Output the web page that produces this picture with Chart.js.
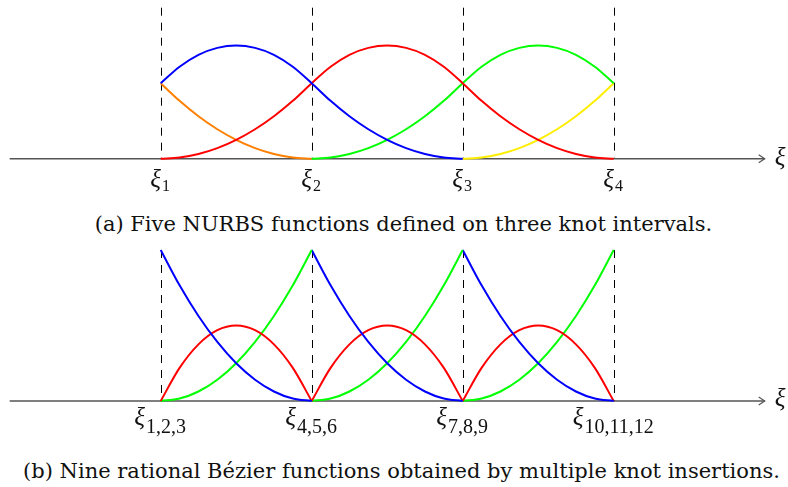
<!DOCTYPE html>
<html>
<head>
<meta charset="utf-8">
<script src="https://cdn.jsdelivr.net/npm/chart.js@4.4.1/dist/chart.umd.min.js"></script>
<style>
  body { margin: 0; background: #fff; width: 788px; height: 487px; overflow: hidden; position: relative; }
  canvas { position: absolute; left: 0; }
  #nurbs { top: 0; }
  #bezier { top: 240px; }
  .caption { position: absolute; left: 0; text-align: center; white-space: nowrap;
             font-family: "DejaVu Serif", serif; font-size: 21px; line-height: 21px; color: #111; }
  #capA { top: 214px; width: 807px; }
  #capB { top: 461px; width: 803px; }
</style>
</head>
<body>
<canvas id="nurbs" width="788" height="200"></canvas>
<div class="caption" id="capA">(a) Five NURBS functions defined on three knot intervals.</div>
<canvas id="bezier" width="788" height="200"></canvas>
<div class="caption" id="capB">(b) Nine rational Bézier functions obtained by multiple knot insertions.</div>
<script>
// knots and their subscripts
const knots = [0, 1, 2, 3];
const subsA = ['1', '2', '3', '4'];
const subsB = ['1,2,3', '4,5,6', '7,8,9', '10,11,12'];

// (a) quadratic NURBS, sampled every 1/8 of a knot interval
const paramA = [0, 0.125, 0.25, 0.375, 0.5, 0.625, 0.75, 0.875, 1,
                1.125, 1.25, 1.375, 1.5, 1.625, 1.75, 1.875, 2,
                2.125, 2.25, 2.375, 2.5, 2.625, 2.75, 2.875, 3];
const orangeA = [0.5, 0.383, 0.281, 0.195, 0.125, 0.07, 0.031, 0.008, 0,
                 null, null, null, null, null, null, null, null,
                 null, null, null, null, null, null, null, null];
const blueA = [0.5, 0.609, 0.688, 0.734, 0.75, 0.734, 0.688, 0.609, 0.5,
               0.383, 0.281, 0.195, 0.125, 0.07, 0.031, 0.008, 0,
               null, null, null, null, null, null, null, null];
const redA = [0, 0.008, 0.031, 0.07, 0.125, 0.195, 0.281, 0.383, 0.5,
              0.609, 0.688, 0.734, 0.75, 0.734, 0.688, 0.609, 0.5,
              0.383, 0.281, 0.195, 0.125, 0.07, 0.031, 0.008, 0];
const greenA = [null, null, null, null, null, null, null, null,
                0, 0.008, 0.031, 0.07, 0.125, 0.195, 0.281, 0.383, 0.5,
                0.609, 0.688, 0.734, 0.75, 0.734, 0.688, 0.609, 0.5];
const yellowA = [null, null, null, null, null, null, null, null,
                 null, null, null, null, null, null, null, null,
                 0, 0.008, 0.031, 0.07, 0.125, 0.195, 0.281, 0.383, 0.5];

// (b) Bezier pieces, same shape in each knot interval
const spansB = [0, 1, 2];
const localT = [0, 0.125, 0.25, 0.375, 0.5, 0.625, 0.75, 0.875, 1];
const bezBlue = [1, 0.766, 0.563, 0.391, 0.25, 0.141, 0.063, 0.016, 0];
const bezRed = [0, 0.219, 0.375, 0.469, 0.5, 0.469, 0.375, 0.219, 0];
const bezGreen = [0, 0.016, 0.063, 0.141, 0.25, 0.391, 0.563, 0.766, 1];

const BLUE = '#0000ff', RED = '#ff0000', GREEN = '#00ff00', ORANGE = '#ff8000', YELLOW = '#ffee00';

function line(values, xs, color) {
  return {
    data: xs.map((x, i) => ({ x: x, y: values[i] })),
    borderColor: color, borderWidth: 2, pointRadius: 0,
    cubicInterpolationMode: 'monotone', spanGaps: false, fill: false
  };
}

// axis with arrow, dashed knot lines, xi labels
function knotAxis(subs, cfg) {
  return {
    id: 'knotAxis',
    beforeDatasetsDraw(chart) {
      const ctx = chart.ctx, sx = chart.scales.x, sy = chart.scales.y;
      const y0 = sy.getPixelForValue(0);
      ctx.save();
      ctx.strokeStyle = '#000';
      ctx.lineWidth = 1;
      ctx.setLineDash([8, 7]);
      knots.forEach(k => {
        const px = Math.round(sx.getPixelForValue(k)) + 0.5;
        ctx.beginPath();
        ctx.moveTo(px, sy.getPixelForValue(1));
        ctx.lineTo(px, y0);
        ctx.stroke();
      });
      ctx.setLineDash([]);
      ctx.strokeStyle = '#555';
      ctx.lineWidth = 1.6;
      const xa = sx.getPixelForValue(-1), xb = sx.getPixelForValue(4);
      ctx.beginPath();
      ctx.moveTo(xa, y0);
      ctx.lineTo(xb, y0);
      ctx.stroke();
      ctx.lineWidth = 1.2;
      ctx.beginPath();
      ctx.moveTo(xb - 6, y0 - 4);
      ctx.lineTo(xb, y0);
      ctx.lineTo(xb - 6, y0 + 4);
      ctx.stroke();
      ctx.restore();
    },
    afterDatasetsDraw(chart) {
      const ctx = chart.ctx, sx = chart.scales.x, sy = chart.scales.y;
      const y0 = sy.getPixelForValue(0);
      const xiFont = 'italic ' + cfg.xiSize + 'px "Liberation Serif"';
      const subFont = cfg.subSize + 'px "Liberation Serif"';
      ctx.save();
      ctx.fillStyle = '#111';
      ctx.textBaseline = 'alphabetic';
      ctx.textAlign = 'left';
      knots.forEach((k, i) => {
        ctx.font = xiFont;
        const w1 = ctx.measureText('ξ').width;
        ctx.font = subFont;
        const w2 = ctx.measureText(subs[i]).width;
        const x0 = sx.getPixelForValue(k) - (w1 + w2) / 2 - 1;
        ctx.font = xiFont;
        ctx.fillText('ξ', x0, y0 + cfg.xiDrop);
        ctx.font = subFont;
        ctx.fillText(subs[i], x0 + w1 + 1, y0 + cfg.subDrop);
      });
      ctx.font = xiFont;
      ctx.fillText('ξ', sx.getPixelForValue(4) + 10, y0 + cfg.endDrop);
      ctx.restore();
    }
  };
}

function baseOptions(yMin, yMax) {
  return {
    responsive: false,
    animation: false,
    devicePixelRatio: 1,
    layout: { padding: 0 },
    plugins: { legend: { display: false }, tooltip: { enabled: false }, title: { display: false } },
    scales: {
      x: { type: 'linear', min: -1.0642, max: 4.1543, display: false },
      y: { type: 'linear', min: yMin, max: yMax, display: false }
    }
  };
}

new Chart(document.getElementById('nurbs'), {
  type: 'line',
  data: {
    datasets: [
      line(blueA, paramA, BLUE),
      line(redA, paramA, RED),
      line(greenA, paramA, GREEN),
      line(orangeA, paramA, ORANGE),
      line(yellowA, paramA, YELLOW)
    ]
  },
  options: baseOptions(-0.2735, 1.051),
  plugins: [knotAxis(subsA, { xiSize: 25, subSize: 16, xiDrop: 28, subDrop: 32, endDrop: 6 })]
});

const bezSets = [];
spansB.forEach(k => {
  const xs = localT.map(t => k + t);
  bezSets.push(line(bezBlue, xs, BLUE));
  bezSets.push(line(bezRed, xs, RED));
  bezSets.push(line(bezGreen, xs, GREEN));
});

new Chart(document.getElementById('bezier'), {
  type: 'line',
  data: { datasets: bezSets },
  options: baseOptions(-0.2583, 1.0662),
  plugins: [knotAxis(subsB, { xiSize: 25, subSize: 20, xiDrop: 24, subDrop: 32, endDrop: 5 })]
});
</script>
</body>
</html>
